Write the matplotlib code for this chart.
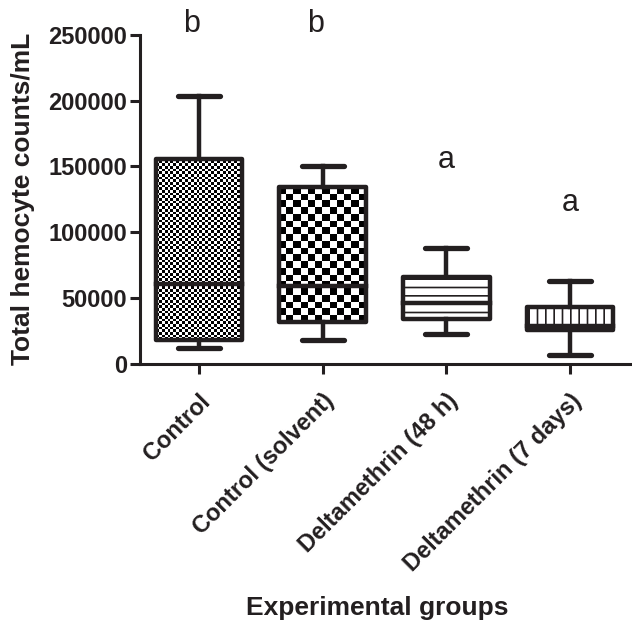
import numpy as np
import matplotlib.pyplot as plt
from matplotlib.patches import Rectangle
from matplotlib.transforms import ScaledTranslation

plt.rcParams['font.family'] = ['Liberation Sans', 'DejaVu Sans']
plt.rcParams['hatch.linewidth'] = 1.2

grupos = ['Control', 'Control (solvent)', 'Deltamethrin (48 h)', 'Deltamethrin (7 days)']
wmin = [12000, 18000, 23000, 7000]
q1 = [18000, 32000, 34000, 25500]
mediana = [61000, 59000, 46500, 29000]
q3 = [156000, 134500, 66000, 43500]
wmax = [203500, 150500, 88000, 63000]
letras = ['b', 'b', 'a', 'a']
letras_x = [-0.06, 0.94, 2.0, 3.0]
letras_y = [258000, 258000, 155000, 122000]

# celdas del damero (columnas, filas)
checker = [(30, 68), (12, 20), None, None]
hatches = [None, None, '--', '||']

fig = plt.figure(figsize=(6.32, 6.2), dpi=100)
ax = fig.add_axes([0.2215, 0.413, 0.776, 0.531])

ancho = 0.7
lw = 3.2
c = '#231f20'
for i in range(len(grupos)):
    x0 = i - ancho / 2
    if checker[i] is not None:
        nc, nr = checker[i]
        img = (np.add.outer(np.arange(nr), np.arange(nc)) % 2).astype(float)
        ax.imshow(img, cmap='gray', interpolation='nearest', aspect='auto',
                  extent=(x0, x0 + ancho, q1[i], q3[i]), zorder=1, vmin=0, vmax=1)
    rect = Rectangle((x0, q1[i]), ancho, q3[i] - q1[i], facecolor='white' if hatches[i] else 'none',
                     edgecolor=c, linewidth=lw, hatch=hatches[i], zorder=2,
                     joinstyle='round')
    ax.add_patch(rect)
    ax.plot([x0, x0 + ancho], [mediana[i], mediana[i]], color=c, lw=lw, zorder=3)
    ax.plot([i, i], [q3[i], wmax[i]], color=c, lw=lw, zorder=3)
    ax.plot([i, i], [wmin[i], q1[i]], color=c, lw=lw, zorder=3)
    ax.plot([i - 0.17, i + 0.17], [wmax[i], wmax[i]], color=c, lw=lw + 0.6, solid_capstyle='round', zorder=3)
    ax.plot([i - 0.17, i + 0.17], [wmin[i], wmin[i]], color=c, lw=lw + 0.6, solid_capstyle='round', zorder=3)
    ax.text(letras_x[i], letras_y[i], letras[i], ha='center', va='center', fontsize=22, color=c)

ax.set_xlim(-0.478, 3.49)
ax.set_ylim(0, 250000)
ax.set_yticks([0, 50000, 100000, 150000, 200000, 250000])
ax.set_xticks(range(len(grupos)))
ax.set_xticklabels(grupos, rotation=45, ha='right', va='top', rotation_mode='anchor',
                   fontsize=17, fontweight='bold', color=c)
desplaz = ScaledTranslation(-10 / 100, 0, fig.dpi_scale_trans)
for t in ax.get_xticklabels():
    t.set_transform(t.get_transform() + desplaz)
for t in ax.get_yticklabels():
    t.set_fontsize(17)
    t.set_fontweight('bold')
    t.set_color(c)

ax.spines['top'].set_visible(False)
ax.spines['right'].set_visible(False)
ax.spines['left'].set_linewidth(2.2)
ax.spines['bottom'].set_linewidth(2.2)
ax.spines['left'].set_color(c)
ax.spines['bottom'].set_color(c)
ax.tick_params(axis='both', width=2.2, length=7.5, color=c, pad=2)
ax.tick_params(axis='x', pad=11)

ax.set_ylabel('Total hemocyte counts/mL', fontsize=19, fontweight='bold', labelpad=9, color=c)
fig.text(0.597, 0.019, 'Experimental groups', ha='center', va='center', fontsize=19, fontweight='bold', color=c)

plt.savefig('out.png', dpi=100)
